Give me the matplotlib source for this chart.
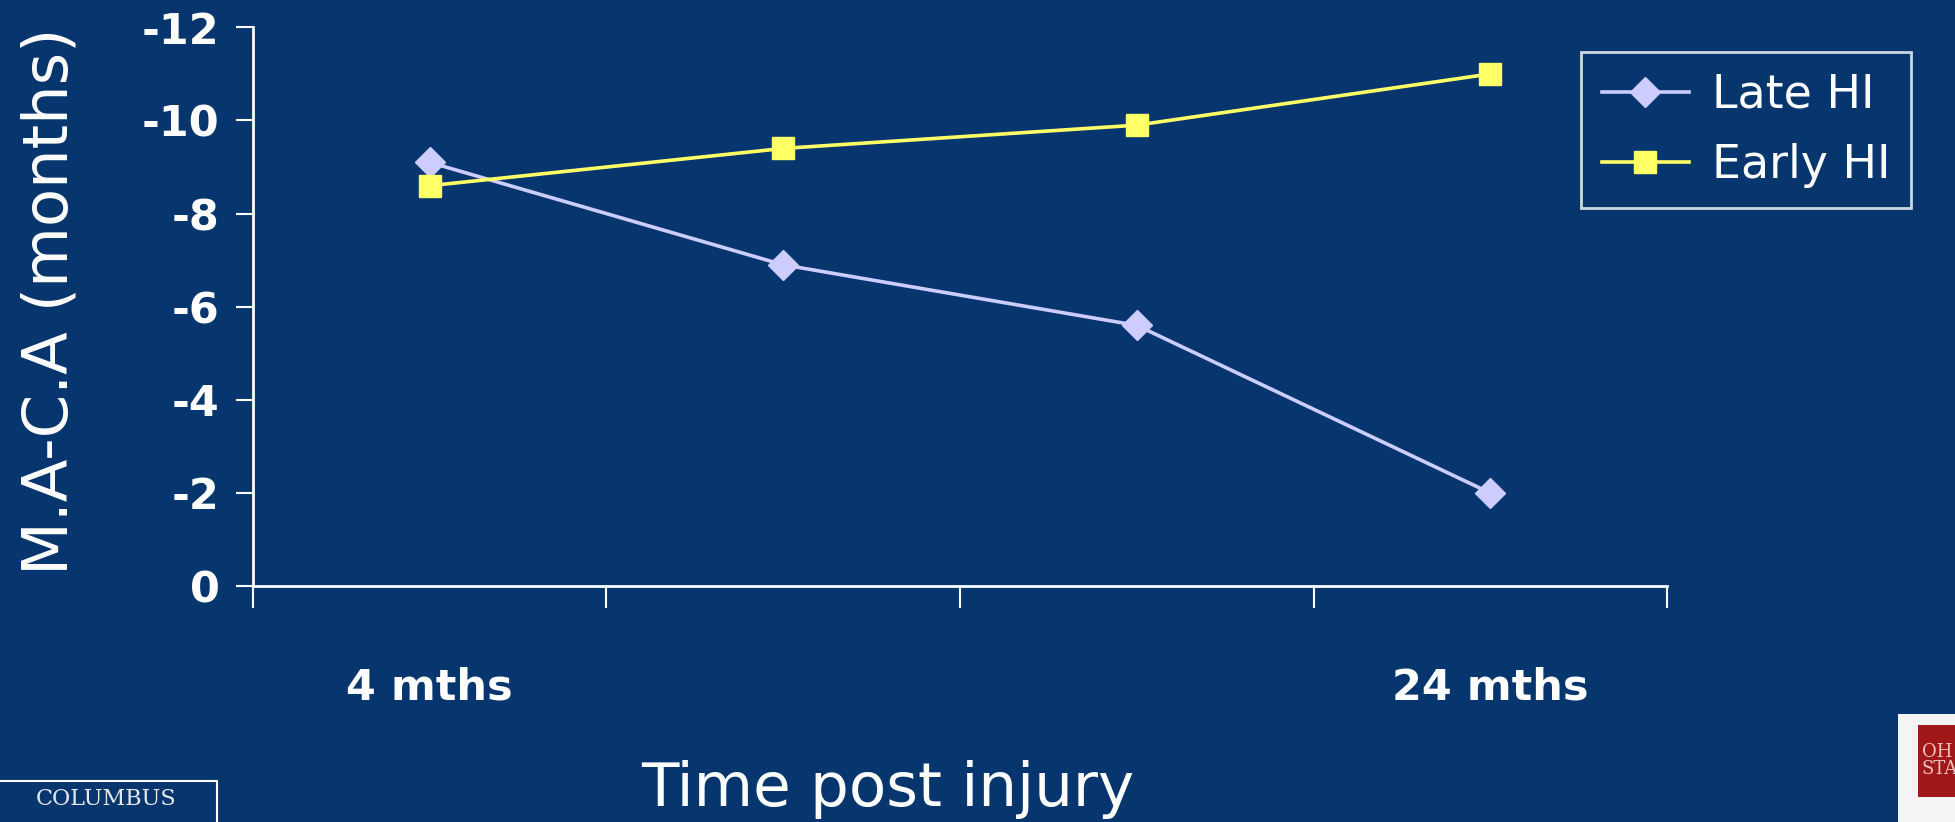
import matplotlib.pyplot as plt
from matplotlib.patches import Rectangle

BG = "#07366f"
LATE_COLOR = "#ccccff"
EARLY_COLOR = "#ffff66"

time_points = ["4 mths", "", "", "24 mths"]
late_hi = [-9.1, -6.9, -5.6, -2.0]
early_hi = [-8.6, -9.4, -9.9, -11.0]
y_ticks = [0, -2, -4, -6, -8, -10, -12]

plt.rcParams.update({
    "font.family": ["Comic Sans MS", "DejaVu Sans"],
    "text.color": "white",
    "axes.unicode_minus": False,
})

fig = plt.figure(figsize=(19.55, 8.22), dpi=100, facecolor=BG)
ax = fig.add_axes([0.1294, 0.287, 0.7233, 0.6797], facecolor=BG)

x = list(range(len(time_points)))
ax.plot(x, late_hi, color=LATE_COLOR, lw=2.6, marker="D", markersize=15,
        label="Late HI")
ax.plot(x, early_hi, color=EARLY_COLOR, lw=2.6, marker="s", markersize=16,
        label="Early HI")

ax.set_xlim(-0.5, len(time_points) - 0.5)
ax.set_ylim(0, -12)
ax.set_yticks(y_ticks)
ax.set_yticklabels([str(v) for v in y_ticks], fontsize=31, fontweight="bold",
                   color="white")
ax.tick_params(axis="y", colors="white", length=12, width=1.5, pad=12)

# category boundaries carry the tick marks, labels sit on minor ticks
ax.set_xticks([i - 0.5 for i in range(len(time_points) + 1)])
ax.set_xticklabels([])
ax.tick_params(axis="x", which="major", colors="white", length=16, width=1.5)
ax.set_xticks(x, minor=True)
ax.set_xticklabels(time_points, minor=True, fontsize=31, fontweight="bold",
                   color="white")
ax.tick_params(axis="x", which="minor", length=0, pad=58)

for side in ("top", "right"):
    ax.spines[side].set_visible(False)
for side in ("left", "bottom"):
    ax.spines[side].set_color("white")
    ax.spines[side].set_linewidth(2)

fig.text(0.0258, 0.634, "M.A-C.A (months)", fontsize=45, color="white",
         rotation=90, ha="center", va="center")
fig.text(0.454, 0.04, "Time post injury", fontsize=44, color="white",
         ha="center", va="center")

leg = ax.legend(loc="upper left", bbox_to_anchor=(0.8087, 0.9367),
                bbox_transform=fig.transFigure, borderaxespad=0,
                fontsize=33, frameon=True, fancybox=False, edgecolor="white",
                facecolor=BG, handlelength=1.9, borderpad=0.45,
                labelspacing=0.55, handletextpad=0.5)
leg.get_frame().set_linewidth(2)
for t in leg.get_texts():
    t.set_color("white")

# logos, bottom corners
fig.patches.append(Rectangle((-0.01, -0.05), 0.121, 0.1, transform=fig.transFigure,
                             facecolor=BG, edgecolor="white", lw=1.5))
fig.text(0.054, 0.028, "COLUMBUS", fontsize=16, family="DejaVu Serif",
         color="#e8e8e8", ha="center", va="center")
fig.patches.append(Rectangle((0.971, -0.01), 0.04, 0.141, transform=fig.transFigure,
                             facecolor="#f4f4f4", edgecolor="none"))
fig.patches.append(Rectangle((0.981, 0.03), 0.03, 0.088, transform=fig.transFigure,
                             facecolor="#a01818", edgecolor="none"))
fig.text(0.983, 0.075, "OH\nSTA", fontsize=13, family="DejaVu Serif",
         color="#f0c0c0", ha="left", va="center", linespacing=0.9)

fig.savefig("out.png", dpi=100, facecolor=BG)
